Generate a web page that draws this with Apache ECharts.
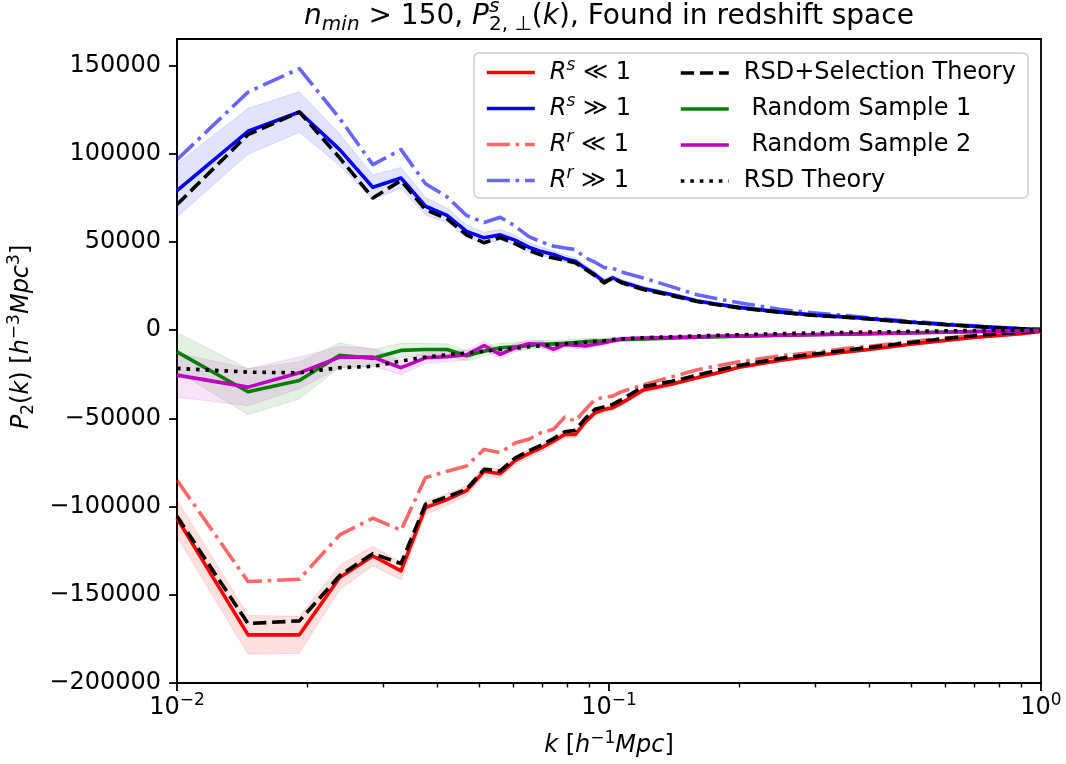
<!DOCTYPE html>
<html><head><meta charset="utf-8">
<script src="https://cdn.jsdelivr.net/npm/echarts@6/dist/echarts.min.js"></script>
<style>html,body{margin:0;padding:0;background:#fff}#c{width:1066px;height:764px}</style>
</head><body><div id="c"></div>
<script>
// ---- data ----
const kValues = [0.0100, 0.0146, 0.0192, 0.0238, 0.0284, 0.0330, 0.0376, 0.0422, 0.0468, 0.0514,
  0.0560, 0.0606, 0.0652, 0.0698, 0.0744, 0.0790, 0.0836, 0.0882, 0.0928, 0.0974,
  0.1020, 0.1066, 0.12, 0.14, 0.16, 0.18, 0.20, 0.25, 0.30, 0.35, 0.40, 0.50, 0.60, 0.70, 0.80, 0.90, 1.00];

const rsLow = [-106600, -172700, -172700, -140200, -128000, -136500, -100600, -96000, -91000, -80000,
  -81400, -74000, -70000, -66600, -63000, -59100, -59100, -52000, -46800, -45000,
  -44000, -41500, -34000, -30500, -27000, -24000, -21000, -17000, -14500, -12500, -11000, -8000, -5800, -4200, -3000, -2000, -800];
const rsLowErr = [10500, 11000, 10500, 7000, 5500, 5000, 3800, 3200, 2800, 2600,
  2500, 2400, 2300, 2200, 2100, 2000, 1900, 1800, 1700, 1600,
  1500, 1400, 1300, 1200, 1100, 1000, 900, 800, 700, 600, 550, 450, 350, 300, 250, 200, 150];

const rsHigh = [79100, 112700, 123600, 102300, 81000, 86200, 70200, 65000, 56000, 52300,
  54000, 51000, 47000, 44500, 42900, 40500, 39000, 35000, 31500, 27400,
  29600, 27500, 23600, 20000, 16500, 14500, 12900, 10200, 8500, 7500, 6500, 4500, 3200, 2200, 1400, 700, 300];
const rsHighErr = [15000, 13000, 11500, 9000, 7000, 6000, 5000, 4200, 3600, 3200,
  3000, 2800, 2600, 2400, 2200, 2100, 2000, 1900, 1800, 1700,
  1600, 1500, 1400, 1200, 1100, 1000, 900, 800, 700, 600, 550, 450, 350, 300, 250, 200, 150];

const rrLow = [-85100, -142500, -141200, -116100, -106600, -113400, -83600, -80000, -77000, -67600,
  -69500, -64000, -61900, -58000, -56200, -49300, -51500, -45000, -39200, -38000,
  -37400, -35000, -31000, -26500, -22500, -20000, -18000, -14500, -12600, -10500, -9200, -6500, -4500, -3000, -1900, -1100, -500];

const rrHigh = [96600, 134900, 148200, 120000, 93800, 102300, 83000, 75500, 65000, 61000,
  64000, 59000, 53000, 50000, 47600, 46500, 45700, 41000, 38500, 35500,
  35000, 33000, 29600, 24500, 20000, 17500, 15500, 11700, 9700, 8300, 7000, 5000, 3500, 2400, 1500, 800, 300];

const selTheoryHigh = [71200, 110800, 123600, 97600, 74900, 84800, 68300, 63000, 54000, 49500,
  52500, 49000, 45100, 42500, 40900, 39500, 38200, 34500, 31000, 26800,
  29600, 27000, 23000, 19500, 16200, 14200, 12600, 10000, 8300, 7300, 6300, 4400, 3100, 2100, 1300, 700, 300];
const selTheoryLow = [-105500, -166300, -164800, -139100, -126700, -132300, -98700, -94500, -90200, -78900,
  -79800, -72500, -68500, -65100, -61500, -57600, -56800, -50000, -44900, -43500,
  -42100, -39500, -32000, -29000, -25500, -22500, -20000, -16000, -13500, -11500, -9800, -7000, -4800, -3200, -2000, -1200, -600];

const random1 = [-12300, -34900, -28500, -14200, -16000, -11500, -11000, -11000, -14500, -12000,
  -10000, -9500, -8700, -8000, -7800, -7500, -7000, -6500, -6200, -6000,
  -5700, -5300, -5000, -4500, -4000, -3700, -3400, -2900, -2500, -2200, -2000, -1500, -1100, -800, -500, -300, -100];
const random1Err = [11000, 13000, 10500, 7000, 5000, 4000, 3500, 3200, 3000, 2800,
  2600, 2400, 2200, 2100, 2000, 1900, 1800, 1700, 1600, 1500,
  1400, 1300, 1200, 1100, 1000, 950, 900, 800, 700, 600, 550, 450, 350, 300, 250, 200, 150];

const random2 = [-25500, -32300, -24200, -15300, -15300, -21300, -15700, -15000, -14000, -8700,
  -13800, -10000, -7700, -8000, -10900, -8100, -8500, -9000, -8000, -7200,
  -6000, -5000, -4500, -4200, -3800, -3500, -3300, -2900, -2600, -2300, -2000, -1600, -1200, -900, -600, -400, -200];
const random2Err = [12500, 10500, 9000, 6000, 5000, 4000, 3200, 3000, 2800, 2600,
  2500, 2400, 2200, 2100, 2000, 1900, 1800, 1700, 1600, 1500,
  1400, 1300, 1200, 1100, 1000, 950, 900, 800, 700, 600, 550, 450, 350, 300, 250, 200, 150];

const rsdTheory = [-21700, -23800, -24200, -21300, -20600, -17500, -15300, -14000, -13000, -11900,
  -11000, -10300, -9400, -8800, -8300, -7800, -7300, -6900, -6400, -6000,
  -5400, -5000, -4300, -3800, -3300, -2900, -2600, -2000, -1600, -1300, -1100, -700, -400, -250, -150, -80, 0];

const yTicks = [-200000, -150000, -100000, -50000, 0, 50000, 100000, 150000];
const xMajorTicks = [0.01, 0.1, 1];
const xMinorTicks = [0.02, 0.03, 0.04, 0.05, 0.06, 0.07, 0.08, 0.09, 0.2, 0.3, 0.4, 0.5, 0.6, 0.7, 0.8, 0.9];

const names = ['Rs<<1', 'Rs>>1', 'Rr<<1', 'Rr>>1', 'RSD+Selection Theory', ' Random Sample 1', ' Random Sample 2', 'RSD Theory'];

// ---- rendering ----
const FONT = 'DejaVu Sans';
const FS = 24;
const pairs = arr => kValues.map((k, i) => [k, arr[i]]);

function band(center, err, fill) {
  return {
    type: 'custom', coordinateSystem: 'cartesian2d', silent: true, z: 1,
    data: [[kValues[0], center[0]]], encode: {x: 0, y: 1},
    renderItem: function (params, api) {
      const up = kValues.map((k, i) => api.coord([k, center[i] + err[i]]));
      const lo = kValues.map((k, i) => api.coord([k, center[i] - err[i]])).reverse();
      return {type: 'polygon', shape: {points: up.concat(lo)}, style: {fill: fill, stroke: fill, lineWidth: 1}};
    }
  };
}
function line(name, arr, color, dash, z) {
  return {
    type: 'line', name: name, data: pairs(arr), symbol: 'none', showSymbol: false, z: z,
    lineStyle: {color: color, width: 3.6, type: dash || 'solid', join: 'round', cap: 'butt'},
    itemStyle: {color: color}
  };
}
const DASH = [13.3, 5.8], DASHDOT = [23, 5.8, 3.6, 5.8], DOT = [3.6, 5.9];

const rich = {
  it: {fontFamily: FONT, fontStyle: 'italic', fontSize: FS, lineHeight: 30, color: '#000'},
  n: {fontFamily: FONT, fontSize: FS, lineHeight: 30, color: '#000'},
  sup: {fontFamily: FONT, fontSize: 17, lineHeight: 17, padding: [0, 0, 14, 0], color: '#000'},
  supi: {fontFamily: FONT, fontStyle: 'italic', fontSize: 17, lineHeight: 17, padding: [0, 0, 14, 0], color: '#000'},
  sub: {fontFamily: FONT, fontSize: 17, lineHeight: 17, padding: [14, 0, 0, 0], color: '#000'}
};
const legendLabel = {
  'Rs<<1': '{it|R}{supi|s}{n| ≪ 1}',
  'Rs>>1': '{it|R}{supi|s}{n| ≫ 1}',
  'Rr<<1': '{it|R}{supi|r}{n| ≪ 1}',
  'Rr>>1': '{it|R}{supi|r}{n| ≫ 1}'
};
function legendCfg(list, left, top, gap) {
  return {
    data: list, orient: 'vertical', left: left, top: top, itemWidth: 48, itemHeight: 14, itemGap: gap,
    selectedMode: false, z: 5,
    lineStyle: {width: 3.6},
    itemStyle: {opacity: 0},
    formatter: n => legendLabel[n] || ('{n|' + n + '}'),
    textStyle: {fontFamily: FONT, fontSize: FS, color: '#000', padding: [0, 0, 0, 10], rich: rich}
  };
}

// title pieces laid out left to right (measured with the same font), centred over the plot
const measureCtx = document.createElement('canvas').getContext('2d');
function textW(t, size, italic) {
  measureCtx.font = (italic ? 'italic ' : '') + size + 'px "' + FONT + '"';
  return measureCtx.measureText(t).width;
}
const titleParts = [
  // text, size, italic, dy, advances
  ['n', 28, true, 0, true],
  ['min', 20, true, 8, true],
  [' > 150, ', 28, false, 0, true],
  ['P', 28, true, 0, true],
  ['s', 20, true, -10, false],
  ['2, ⊥', 20, false, 8, true],
  ['(', 28, false, 0, true],
  ['k', 28, true, 0, true],
  ['), Found in redshift space', 28, false, 0, true]
];
const titleCenterX = 609, titleMidY = 17;
let totalW = 0;
titleParts.forEach(p => { if (p[4]) totalW += textW(p[0], p[1], p[2]); });
let cx = titleCenterX - totalW / 2;
const titleGraphics = titleParts.map(p => {
  const g = {type: 'text', z: 5, x: cx, y: titleMidY + p[3],
    style: {text: p[0], fontFamily: FONT, fontSize: p[1], fontStyle: p[2] ? 'italic' : 'normal',
      fill: '#000', align: 'left', verticalAlign: 'middle'}};
  if (p[4]) cx += textW(p[0], p[1], p[2]);
  return g;
});

const chart = echarts.init(document.getElementById('c'), null, {renderer: 'canvas'});
chart.setOption({
  animation: false,
  backgroundColor: '#fff',
  grid: {left: 177, top: 39, right: 25, bottom: 81, show: true, borderColor: '#000', borderWidth: 1.8,
    backgroundColor: 'transparent', containLabel: false, outerBoundsMode: 'none'},
  xAxis: [{
    type: 'log', logBase: 10, min: 0.01, max: 1,
    axisLine: {onZero: false, lineStyle: {color: '#000', width: 1.8}},
    axisTick: {show: true, inside: false, length: 8, lineStyle: {color: '#000', width: 1.8}, customValues: xMajorTicks},
    axisLabel: {
      margin: 10, customValues: xMajorTicks,
      formatter: v => '{b|10}{sup|' + String(Math.round(Math.log10(v))).replace('-', '−') + '}',
      rich: {b: {fontFamily: FONT, fontSize: FS, lineHeight: 30, color: '#000'}, sup: rich.sup}
    },
    splitLine: {show: false}, minorTick: {show: false},
    name: '{it|k}{n| [}{it|h}{sup|−1}{it|Mpc}{n|]}', nameLocation: 'middle', nameGap: 48,
    nameTextStyle: {rich: rich}
  }, {
    type: 'log', logBase: 10, min: 0.01, max: 1, position: 'bottom',
    axisLine: {show: false, onZero: false},
    axisTick: {show: true, length: 4.5, lineStyle: {color: '#000', width: 1.4}, customValues: xMinorTicks},
    axisLabel: {show: false}, splitLine: {show: false}
  }],
  yAxis: {
    type: 'value', min: -200000, max: 165000, interval: 50000,
    axisLine: {onZero: false, lineStyle: {color: '#000', width: 1.8}},
    axisTick: {length: 8, lineStyle: {color: '#000', width: 1.8}, customValues: yTicks},
    axisLabel: {
      margin: 16, customValues: yTicks, fontFamily: FONT, fontSize: FS, color: '#000',
      formatter: v => (v % 50000 === 0 ? String(v).replace('-', '−') : '')
    },
    splitLine: {show: false},
    name: '{it|P}{sub|2}{n|(}{it|k}{n|) [}{it|h}{sup|−3}{it|Mpc}{sup|3}{n|]}',
    nameLocation: 'middle', nameRotate: 90, nameGap: 140,
    nameTextStyle: {rich: rich, padding: [0, 0, 0, 48]}
  },
  legend: [legendCfg(names.slice(0, 4), 480, 52, 5), legendCfg(names.slice(4), 674, 56, 12)],
  graphic: [
    {type: 'rect', z: 4, shape: {x: 474, y: 53, width: 554, height: 145, r: 5},
      style: {fill: 'rgba(255,255,255,0.8)', stroke: '#cccccc', lineWidth: 1.5}}
  ].concat(titleGraphics),
  series: [
    band(rsLow, rsLowErr, 'rgba(255,0,0,0.12)'),
    band(rsHigh, rsHighErr, 'rgba(0,0,255,0.11)'),
    band(random1, random1Err, 'rgba(0,128,0,0.11)'),
    band(random2, random2Err, 'rgba(191,0,191,0.11)'),
    line('Rs<<1', rsLow, '#ff0000', null, 2),
    line('Rs>>1', rsHigh, '#0000ff', null, 2),
    line('Rr<<1', rrLow, 'rgba(255,0,0,0.6)', DASHDOT, 2),
    line('Rr>>1', rrHigh, 'rgba(0,0,255,0.6)', DASHDOT, 2),
    line('RSD+Selection Theory', selTheoryHigh, '#000000', DASH, 3),
    line('RSD+Selection Theory', selTheoryLow, '#000000', DASH, 3),
    line(' Random Sample 1', random1, '#008000', null, 3),
    line(' Random Sample 2', random2, '#bf00bf', null, 3),
    line('RSD Theory', rsdTheory, '#000000', DOT, 3)
  ]
});
</script></body></html>
